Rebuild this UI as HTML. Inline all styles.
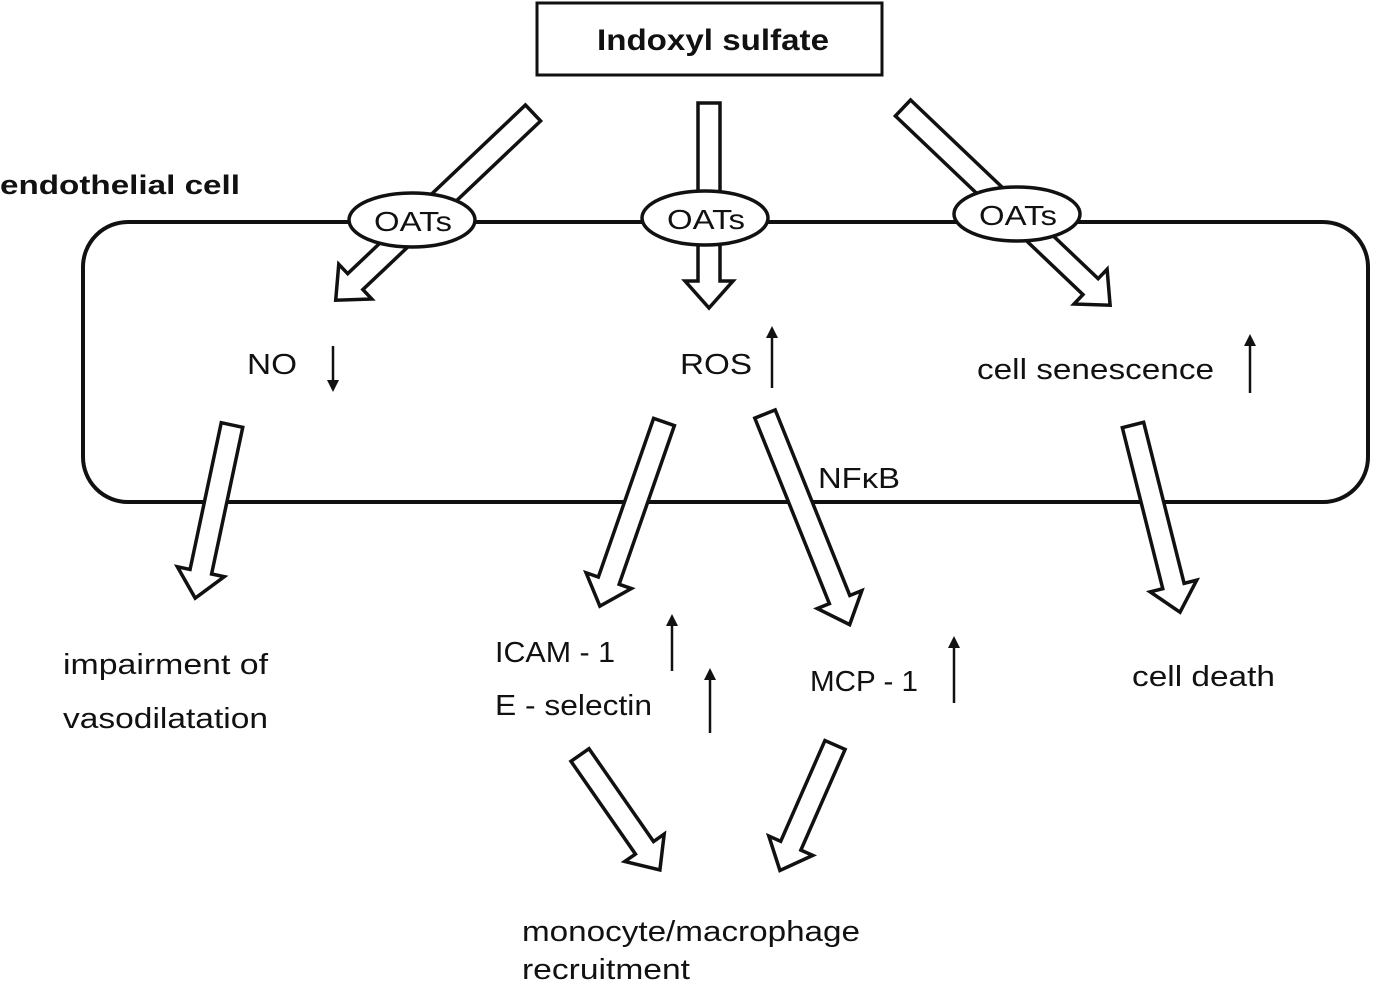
<!DOCTYPE html>
<html><head><meta charset="utf-8"><style>
html,body{margin:0;padding:0;background:#fff;}
svg{display:block;}
text{font-family:"Liberation Sans",Arial,sans-serif;fill:#111;}
</style></head><body>
<svg width="1384" height="988" viewBox="0 0 1384 988" xmlns="http://www.w3.org/2000/svg">
<defs>
<marker id="ah" markerWidth="12" markerHeight="12" refX="6" refY="6" orient="auto" markerUnits="userSpaceOnUse">
<path d="M0,0 L12,6 L0,12 z" fill="#111"/>
</marker>
</defs>
<rect x="537" y="3" width="345" height="72" fill="#fff" stroke="#111" stroke-width="3"/>
<text x="597" y="50" font-size="30" font-weight="bold" textLength="232" lengthAdjust="spacingAndGlyphs">Indoxyl sulfate</text>
<text x="0" y="194" font-size="27" font-weight="bold" textLength="240" lengthAdjust="spacingAndGlyphs">endothelial cell</text>
<rect x="83" y="222" width="1285" height="280" rx="45" fill="none" stroke="#111" stroke-width="4"/>
<g fill="#fff" stroke="#111" stroke-width="3.5" stroke-linejoin="miter">
<polygon transform="translate(533,113) rotate(136.5)" points="0,-11 245,-11 245,-24 272,0 245,24 245,11 0,11"/>
<polygon transform="translate(709,103) rotate(90)" points="0,-11 178,-11 178,-24 205,0 178,24 178,11 0,11"/>
<polygon transform="translate(903,108) rotate(43.6)" points="0,-11 259,-11 259,-24 286,0 259,24 259,11 0,11"/>
<polygon transform="translate(232,425) rotate(102)" points="0,-11 150,-11 150,-24 177,0 150,24 150,11 0,11"/>
<polygon transform="translate(664,422) rotate(109.2)" points="0,-11 168,-11 168,-24 195,0 168,24 168,11 0,11"/>
<polygon transform="translate(765,414) rotate(68.1)" points="0,-11 200,-11 200,-24 227,0 200,24 200,11 0,11"/>
<polygon transform="translate(1133,425) rotate(75.9)" points="0,-11 166,-11 166,-24 193,0 166,24 166,11 0,11"/>
<polygon transform="translate(580,755) rotate(55.2)" points="0,-11 113,-11 113,-24 140,0 113,24 113,11 0,11"/>
<polygon transform="translate(835,745) rotate(113.7)" points="0,-11 110,-11 110,-24 137,0 110,24 110,11 0,11"/>
</g>
<g fill="#fff" stroke="#111" stroke-width="3.5">
<ellipse cx="412" cy="220" rx="63" ry="27"/>
<ellipse cx="705" cy="218" rx="63" ry="27"/>
<ellipse cx="1017" cy="214" rx="63" ry="27"/>
</g>
<g font-size="28">
<text x="374" y="231" textLength="78" lengthAdjust="spacingAndGlyphs">OATs</text>
<text x="667" y="229" textLength="78" lengthAdjust="spacingAndGlyphs">OATs</text>
<text x="979" y="225" textLength="78" lengthAdjust="spacingAndGlyphs">OATs</text>
</g>
<g stroke="#111" stroke-width="2.5" marker-end="url(#ah)">
<line x1="333" y1="346" x2="333" y2="386"/>
<line x1="772" y1="388" x2="772" y2="332"/>
<line x1="1250" y1="393" x2="1250" y2="340"/>
<line x1="672" y1="671" x2="672" y2="620"/>
<line x1="710" y1="733" x2="710" y2="674"/>
<line x1="954" y1="703" x2="954" y2="642"/>
</g>
<g font-size="29">
<text x="247" y="374" textLength="50" lengthAdjust="spacingAndGlyphs">NO</text>
<text x="680" y="374" textLength="72" lengthAdjust="spacingAndGlyphs">ROS</text>
<text x="977" y="379" textLength="237" lengthAdjust="spacingAndGlyphs">cell senescence</text>
<text x="818" y="488" textLength="82" lengthAdjust="spacingAndGlyphs">NFκB</text>
<text x="63" y="674" textLength="205" lengthAdjust="spacingAndGlyphs">impairment of</text>
<text x="63" y="728" textLength="205" lengthAdjust="spacingAndGlyphs">vasodilatation</text>
<text x="495" y="662" textLength="120" lengthAdjust="spacingAndGlyphs">ICAM - 1</text>
<text x="495" y="715" textLength="157" lengthAdjust="spacingAndGlyphs">E - selectin</text>
<text x="810" y="691" textLength="108" lengthAdjust="spacingAndGlyphs">MCP - 1</text>
<text x="1132" y="686" textLength="143" lengthAdjust="spacingAndGlyphs">cell death</text>
<text x="522" y="941" textLength="338" lengthAdjust="spacingAndGlyphs">monocyte/macrophage</text>
<text x="522" y="979" textLength="168" lengthAdjust="spacingAndGlyphs">recruitment</text>
</g>
</svg>
</body></html>
